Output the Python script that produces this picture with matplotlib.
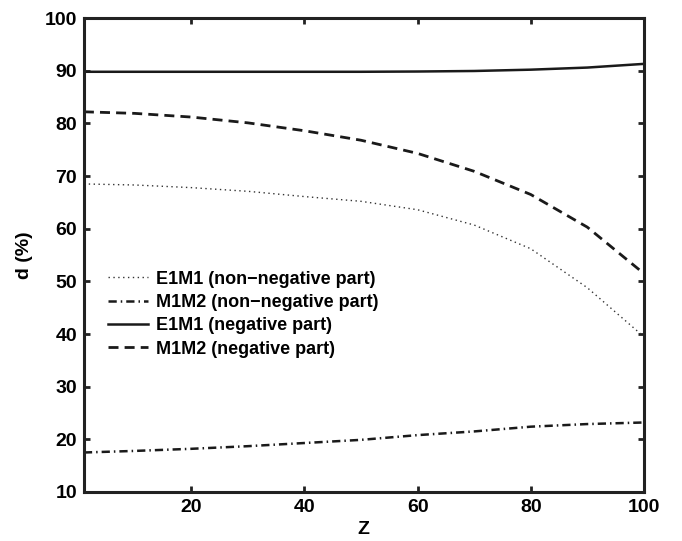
import matplotlib
matplotlib.use("Agg")
import matplotlib.pyplot as plt

plt.rcParams["font.family"] = ["Liberation Sans", "DejaVu Sans"]
plt.rcParams["font.weight"] = "bold"

# values
z = [1, 10, 20, 30, 40, 50, 60, 70, 80, 90, 100]
e1m1_nonneg = [68.5, 68.3, 67.8, 67.1, 66.1, 65.2, 63.6, 60.7, 56.2, 48.8, 39.5]
m1m2_nonneg = [17.5, 17.8, 18.2, 18.7, 19.3, 19.9, 20.8, 21.5, 22.4, 22.9, 23.2]
e1m1_neg = [89.8, 89.8, 89.8, 89.8, 89.8, 89.8, 89.85, 89.95, 90.2, 90.6, 91.3]
m1m2_neg = [82.2, 81.9, 81.2, 80.1, 78.6, 76.8, 74.3, 70.9, 66.5, 60.3, 51.5]

labels = ["E1M1 (non\u2212negative part)", "M1M2 (non\u2212negative part)",
          "E1M1 (negative part)", "M1M2 (negative part)"]

fig = plt.figure(figsize=(6.82, 5.41), dpi=100)
ax = fig.add_axes([0.123, 0.0906, 0.821, 0.876])

ax.plot(z, e1m1_nonneg, color="#333333", lw=1.0, linestyle=(0, (1, 2.5)), label=labels[0])
ax.plot(z, m1m2_nonneg, color="#1a1a1a", lw=1.8, linestyle=(0, (3.3, 1.6, 0.6, 1.6)), label=labels[1])
ax.plot(z, e1m1_neg, color="#1a1a1a", lw=1.8, linestyle="-", label=labels[2])
ax.plot(z, m1m2_neg, color="#1a1a1a", lw=2.0, linestyle=(0, (3.6, 2.2)), label=labels[3])

ax.set_xlim(1, 100)
ax.set_ylim(10, 100)
ax.set_xticks([20, 40, 60, 80, 100])
ax.set_yticks(range(10, 101, 10))
ax.tick_params(direction="in", length=4, width=2, top=True, right=True,
               labelsize=14, pad=5, color="#222222")
for s in ax.spines.values():
    s.set_linewidth(2.2)
    s.set_color("#222222")

ax.set_xlabel("Z", fontsize=14, fontweight="bold", labelpad=4)
ax.set_ylabel("d (%)", fontsize=14, fontweight="bold", labelpad=8)

leg = ax.legend(loc="center left", bbox_to_anchor=(0.031, 0.3755), frameon=False,
                fontsize=13, handlelength=2.2, handletextpad=0.45,
                labelspacing=0.35, borderaxespad=0)
for t in leg.get_texts():
    t.set_fontweight("bold")

fig.savefig("out.png", dpi=100)
